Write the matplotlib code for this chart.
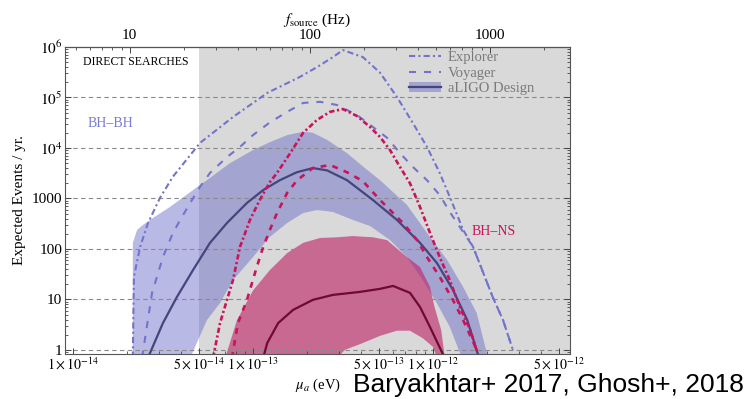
import numpy as np
import matplotlib
matplotlib.use("Agg")
import matplotlib.pyplot as plt
from matplotlib.lines import Line2D
from matplotlib.patches import Patch
from matplotlib.ticker import FixedLocator, FixedFormatter, LogLocator, NullFormatter

plt.rcParams['font.family'] = ['Liberation Serif', 'DejaVu Serif']
plt.rcParams['mathtext.fontset'] = 'stix'

# " BH-BH curves (mu_a in eV, expected events / yr) "
explorer_mu = [2.15e-14, 2.18e-14, 2.36e-14, 2.61e-14, 3.04e-14, 3.59e-14, 5.08e-14, 7.74e-14,
               1.20e-13, 1.82e-13, 2.27e-13, 2.78e-13, 3.16e-13, 4.08e-13, 5.08e-13, 6.31e-13,
               7.74e-13, 9.26e-13, 1.09e-12, 1.24e-12, 1.47e-12, 1.67e-12, 2.15e-12, 2.45e-12, 2.78e-12]
explorer_ev = [0.7, 28, 110, 325, 1020, 2.7e3, 1.26e4, 4.1e4, 1.23e5, 2.55e5, 4.0e5, 6.3e5, 8.7e5,
               6.3e5, 3.1e5, 1.02e5, 3.1e4, 1.05e4, 3.2e3, 1.07e3, 240, 110, 11, 3.9, 1.0]

voyager_mu = [2.42e-14, 2.75e-14, 3.16e-14, 3.59e-14, 4.03e-14, 4.58e-14, 5.08e-14, 5.77e-14,
              7.17e-14, 8.47e-14, 1.0e-13, 1.24e-13, 1.55e-13, 1.90e-13, 2.36e-13, 2.93e-13,
              3.78e-13, 4.64e-13, 5.55e-13, 6.56e-13, 7.74e-13, 9.26e-13, 1.09e-12, 1.24e-12,
              1.47e-12, 1.67e-12, 2.15e-12, 2.45e-12, 2.78e-12]
voyager_ev = [0.7, 13.5, 69, 208, 430, 930, 1.7e3, 3.2e3, 6.6e3, 1.05e4, 1.8e4, 3.2e4, 5.2e4,
              7.8e4, 8.2e4, 7.1e4, 4.5e4, 2.6e4, 1.6e4, 7.9e3, 4.2e3, 2.3e3, 1.17e3, 540,
              218, 110, 11, 3.9, 1.0]

aligo_mu = [2.61e-14, 3.16e-14, 3.78e-14, 4.64e-14, 5.77e-14, 7.17e-14, 9.26e-14, 1.14e-13,
            1.41e-13, 1.75e-13, 2.15e-13, 2.58e-13, 3.33e-13, 4.64e-13, 6.31e-13, 8.47e-13,
            1.05e-12, 1.29e-12, 1.55e-12, 1.78e-12]
aligo_ev = [0.7, 3.4, 11.2, 38, 132, 327, 815, 1.47e3, 2.3e3, 3.3e3, 4.0e3, 3.6e3, 2.3e3, 930,
            375, 132, 53, 15.5, 3.9, 0.8]

band_hi_mu = [2.15e-14, 2.15e-14, 2.27e-14, 2.45e-14, 2.78e-14, 3.46e-14, 4.19e-14, 5.08e-14,
              5.55e-14, 7.45e-14, 1.0e-13, 1.24e-13, 1.55e-13, 1.90e-13, 2.15e-13, 2.58e-13,
              3.33e-13, 4.30e-13, 5.08e-13, 7.17e-13, 9.26e-13, 1.20e-12, 1.47e-12, 1.75e-12, 2.07e-12]
band_hi_ev = [0.5, 132, 237, 300, 410, 680, 1.12e3, 1.85e3, 2.3e3, 5.0e3, 9.1e3, 1.3e4, 1.8e4,
              2.1e4, 2.0e4, 1.45e4, 7.9e3, 3.7e3, 2.3e3, 745, 208, 60, 17.7, 5.4, 0.5]
band_lo_mu = [4.30e-14, 5.55e-14, 6.56e-14, 7.74e-14, 1.0e-13, 1.24e-13, 1.55e-13, 1.90e-13,
              2.27e-13, 2.78e-13, 3.59e-13, 4.47e-13, 5.77e-13, 7.17e-13, 8.79e-13, 1.05e-12,
              1.24e-12, 1.50e-12]
band_lo_ev = [0.5, 3.9, 8.5, 24, 69, 173, 327, 515, 590, 540, 375, 285, 150, 69, 24, 8.5, 2.85, 0.5]

# " BH-NS curves "
ns_explorer_mu = [6.00e-14, 6.56e-14, 7.17e-14, 7.74e-14, 8.47e-14, 9.62e-14, 1.09e-13, 1.24e-13,
                  1.36e-13, 1.61e-13, 1.90e-13, 2.27e-13, 2.68e-13, 3.16e-13, 3.78e-13, 4.47e-13,
                  5.08e-13, 5.77e-13, 6.56e-13, 7.45e-13, 8.47e-13, 9.62e-13, 1.09e-12, 1.24e-12,
                  1.41e-12, 1.61e-12, 1.78e-12]
ns_explorer_ev = [0.7, 3.4, 9.8, 24, 110, 375, 930, 2.1e3, 3.2e3, 7.9e3, 2.0e4, 3.6e4, 5.2e4,
                  5.9e4, 4.3e4, 2.6e4, 1.65e4, 9.1e3, 4.2e3, 2.0e3, 680, 208, 69, 24, 7.1, 2.5, 0.8]

ns_voyager_mu = [7.64e-14, 8.25e-14, 9.26e-14, 1.05e-13, 1.14e-13, 1.24e-13, 1.36e-13, 1.55e-13,
                 1.76e-13, 2.15e-13, 2.68e-13, 3.33e-13, 4.08e-13, 5.08e-13, 6.81e-13, 8.15e-13,
                 9.26e-13, 1.09e-12, 1.29e-12, 1.47e-12, 1.75e-12]
ns_voyager_ev = [0.7, 3.4, 9.8, 44, 110, 237, 515, 1.3e3, 2.3e3, 4.0e3, 4.6e3, 3.3e3, 2.2e3, 930,
                 327, 150, 69, 28, 9.8, 3.9, 1.0]

ns_aligo_mu = [1.14e-13, 1.20e-13, 1.38e-13, 1.67e-13, 2.15e-13, 2.78e-13, 3.93e-13, 5.08e-13,
               6.0e-13, 7.45e-13, 8.47e-13, 9.62e-13, 1.14e-12]
ns_aligo_ev = [0.7, 1.37, 3.4, 6.2, 9.8, 12.3, 14.1, 16.2, 18.5, 13.5, 7.1, 2.85, 0.8]

ns_hi_mu = [6.81e-14, 8.15e-14, 1.0e-13, 1.24e-13, 1.55e-13, 1.90e-13, 2.36e-13, 2.93e-13,
            3.59e-13, 4.64e-13, 5.55e-13, 7.17e-13, 8.47e-13, 9.62e-13, 1.02e-12, 1.11e-12, 1.18e-12]
ns_hi_ev = [0.5, 3.9, 15, 38, 83, 132, 165, 170, 180, 170, 150, 69, 44, 17.7, 7.1, 2.5, 0.5]
ns_lo_mu = [6.81e-14, 2.68e-13, 3.24e-13, 4.08e-13, 5.08e-13, 6.31e-13, 7.45e-13, 8.79e-13,
            1.0e-12, 1.09e-12]
ns_lo_ev = [0.5, 0.5, 1.0, 1.37, 1.9, 2.4, 2.4, 1.7, 1.15, 0.5]

yticks = [1, 10, 100, 1000, 1e4, 1e5, 1e6]
ytick_labels = ['1', '10', '100', '1000', r'$10^4$', r'$10^5$', r'$10^6$']
xticks = [1e-14, 5e-14, 1e-13, 5e-13, 1e-12, 5e-12]
xtick_labels = [r'$1\times10^{-14}$', r'$5\times10^{-14}$', r'$1\times10^{-13}$',
                r'$5\times10^{-13}$', r'$1\times10^{-12}$', r'$5\times10^{-12}$']
ftick = [10, 100, 1000]
ftick_labels = ['10', '100', '1000']

h_ev = 4.1357e-15  # Planck constant, eV s


def mu2f(mu):
    return 2 * np.asarray(mu) / h_ev


def f2mu(f):
    return np.asarray(f) * h_ev / 2


blue = '#7373cc'
navy = '#45457c'
crimson = '#c8145a'
maroon = '#6e0a35'

fig = plt.figure(figsize=(7.49, 3.99), dpi=100)
ax = fig.add_axes([0.0868, 0.1128, 0.6742, 0.7694])
ax.set_xscale('log')
ax.set_yscale('log')
ax.set_xlim(9.03e-15, 5.77e-12)
ax.set_ylim(0.83, 1e6)

" Shaded region and grid "
ax.axvspan(5e-14, 1e-11, color='#d9d9d9', zorder=0, lw=0)
for yv in yticks[:-1]:
    ax.axhline(yv, color='#8a8a8a', lw=0.8, linestyle=(0, (4, 3)), zorder=1.5)

" Bands "
ax.fill(band_hi_mu + band_lo_mu[::-1], band_hi_ev + band_lo_ev[::-1],
        color='#6464c8', alpha=0.45, lw=0, zorder=1)
ax.fill(ns_hi_mu + ns_lo_mu[::-1], ns_hi_ev + ns_lo_ev[::-1],
        color='#be1e64', alpha=0.6, lw=0, zorder=1.2)

" Curves "
ax.plot(explorer_mu, explorer_ev, color=blue, lw=1.5, linestyle=(0, (3, 1.5, 1, 1.5)), zorder=3)
ax.plot(voyager_mu, voyager_ev, color=blue, lw=1.5, linestyle=(0, (3.4, 3.8)), zorder=3)
ax.plot(aligo_mu, aligo_ev, color=navy, lw=1.6, zorder=3)
ax.plot(ns_explorer_mu, ns_explorer_ev, color=crimson, lw=1.9, linestyle=(0, (2, 1, 0.8, 1)), zorder=3)
ax.plot(ns_voyager_mu, ns_voyager_ev, color=crimson, lw=1.9, linestyle=(0, (2.2, 2.4)), zorder=3)
ax.plot(ns_aligo_mu, ns_aligo_ev, color=maroon, lw=1.6, zorder=3)

" Ticks "
ax.yaxis.set_major_locator(FixedLocator(yticks))
ax.yaxis.set_major_formatter(FixedFormatter(ytick_labels))
ax.yaxis.set_minor_locator(LogLocator(base=10, subs=np.arange(2, 10)))
ax.yaxis.set_minor_formatter(NullFormatter())
ax.xaxis.set_major_locator(FixedLocator(xticks))
ax.xaxis.set_major_formatter(FixedFormatter(xtick_labels))
ax.xaxis.set_minor_locator(LogLocator(base=10, subs=np.arange(2, 10)))
ax.xaxis.set_minor_formatter(NullFormatter())
ax.tick_params(which='both', direction='in', right=True, top=False, color='#444444')
ax.tick_params(which='major', length=4, width=0.7)
ax.tick_params(which='minor', length=2, width=0.6)
ax.tick_params(axis='y', labelsize=11, pad=2)
ax.tick_params(axis='x', labelsize=10, pad=1.5)
for s in ax.spines.values():
    s.set_color('#555555')
    s.set_linewidth(0.8)

secax = ax.secondary_xaxis('top', functions=(mu2f, f2mu))
secax.xaxis.set_major_locator(FixedLocator(ftick))
secax.xaxis.set_major_formatter(FixedFormatter(ftick_labels))
secax.xaxis.set_minor_locator(LogLocator(base=10, subs=np.arange(2, 10)))
secax.xaxis.set_minor_formatter(NullFormatter())
secax.tick_params(which='both', direction='in', color='#444444', labelsize=11)
secax.tick_params(which='major', length=4, width=0.7)
secax.tick_params(which='minor', length=2, width=0.6)
secax.set_xlabel(r'$f_{\mathrm{source}}$ (Hz)', fontsize=11, labelpad=4)

ax.set_xlabel(r'$\mu_a$ (eV)', fontsize=10.5, labelpad=3)
ax.set_ylabel('Expected Events / yr.', fontsize=11, labelpad=4)

" Annotations "
ax.text(0.036, 0.951, 'DIRECT SEARCHES', transform=ax.transAxes, fontsize=8.5,
        va='center', ha='left', color='black')
ax.text(0.089, 0.752, 'BH\u2013BH', transform=ax.transAxes, fontsize=10,
        va='center', ha='center', color='#7a7ad0')
ax.text(0.848, 0.40, 'BH\u2013NS', transform=ax.transAxes, fontsize=10,
        va='center', ha='center', color=crimson)

handles = [Line2D([], [], color=blue, lw=1.5, linestyle=(0, (3, 1.5, 1, 1.5))),
           Line2D([], [], color=blue, lw=1.5, linestyle=(0, (3.4, 3.8))),
           (Patch(facecolor='#6464c8', alpha=0.45, lw=0), Line2D([], [], color=navy, lw=1.6))]
leg = ax.legend(handles, ['Explorer', 'Voyager', 'aLIGO Design'], loc='upper left',
                bbox_to_anchor=(0.66, 1.02), frameon=False, fontsize=10.5,
                handlelength=2.2, labelspacing=0.15, handletextpad=0.5, borderaxespad=0.3)
for t in leg.get_texts():
    t.set_color('#7a7a7a')

fig.text(0.471, 0.036, 'Baryakhtar+ 2017, Ghosh+, 2018', fontsize=19,
         family='Liberation Sans', color='black', va='center', ha='left')

fig.savefig('out.png', dpi=100)
